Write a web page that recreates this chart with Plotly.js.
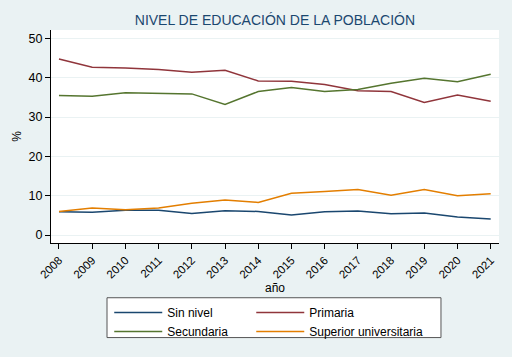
<!DOCTYPE html>
<html><head><meta charset="utf-8">
<script src="https://cdn.plot.ly/plotly-3.0.1.min.js"></script>
<style>body{margin:0;padding:0;}#c{width:512px;height:357px;}</style>
</head><body><div id="c"></div>
<script>
const years = [2008,2009,2010,2011,2012,2013,2014,2015,2016,2017,2018,2019,2020,2021];
const sinNivel = [5.9,5.8,6.3,6.3,5.5,6.2,6.0,5.1,5.9,6.1,5.4,5.6,4.6,4.1];
const primaria = [44.8,42.7,42.5,42.1,41.4,41.9,39.2,39.1,38.3,36.7,36.5,33.7,35.6,34.0];
const secundaria = [35.5,35.3,36.2,36.1,35.9,33.2,36.5,37.5,36.5,37.0,38.6,39.9,39.0,40.9];
const superior = [6.0,6.9,6.4,6.9,8.1,8.9,8.3,10.6,11.1,11.6,10.1,11.6,10.0,10.5];
const names = ["Sin nivel","Primaria","Secundaria","Superior universitaria"];
const colors = ["#1a476f","#90353b","#55752f","#e37e00"];
const series = [sinNivel, primaria, secundaria, superior];
const legendOf = ["legend","legend2","legend","legend2"];
const yTicks = [0,10,20,30,40,50];

const traces = series.map((s,i)=>({
  x: years, y: s, type:'scatter', mode:'lines', name: names[i],
  legend: legendOf[i],
  line:{color:colors[i], width:1.5}
}));

const legBase = {orientation:'v', yanchor:'top', xanchor:'left', y:-0.252,
  bgcolor:'rgba(0,0,0,0)', borderwidth:0, traceorder:'normal',
  font:{size:12}, itemwidth:48, tracegroupgap:0};

const layout = {
  width:512, height:357,
  paper_bgcolor:'#eaf2f3', plot_bgcolor:'#ffffff',
  margin:{l:51, r:13, t:30, b:113},
  font:{family:'"Liberation Sans", Arial, sans-serif', size:12, color:'#000'},
  title:{text:'NIVEL DE EDUCACIÓN DE LA POBLACIÓN', font:{size:14, color:'#1a476f'},
    x:0.537, xanchor:'center', y:0.943, yanchor:'middle', yref:'container'},
  xaxis:{range:[2007.76,2021.25], tickvals:years, ticktext:years.map(String),
    tickangle:-45, ticks:'outside', ticklen:5, tickcolor:'#000', showline:true,
    linecolor:'#000', linewidth:1, showgrid:false, zeroline:false,
    tickfont:{size:11.5}, automargin:false,
    title:{text:'año', standoff:0, font:{size:12}}},
  yaxis:{range:[-2.03,52.15], tickvals:yTicks, ticks:'outside', ticklen:5, tickcolor:'#000',
    showline:true, linecolor:'#000', linewidth:1, showgrid:true, gridcolor:'#eaf2f3',
    gridwidth:1, zeroline:false, tickfont:{size:12.5}, automargin:false,
    title:{text:'%', standoff:4, font:{size:12}}},
  showlegend:true,
  legend:Object.assign({}, legBase, {x:0.13}),
  legend2:Object.assign({}, legBase, {x:0.447}),
  shapes:[{type:'rect', xref:'paper', yref:'paper', x0:0.125, x1:0.8705, y0:-0.444, y1:-0.257,
    fillcolor:'#ffffff', line:{color:'#555', width:1}, layer:'above'}]
};
Plotly.newPlot('c', traces, layout, {displayModeBar:false, staticPlot:true});
</script></body></html>
